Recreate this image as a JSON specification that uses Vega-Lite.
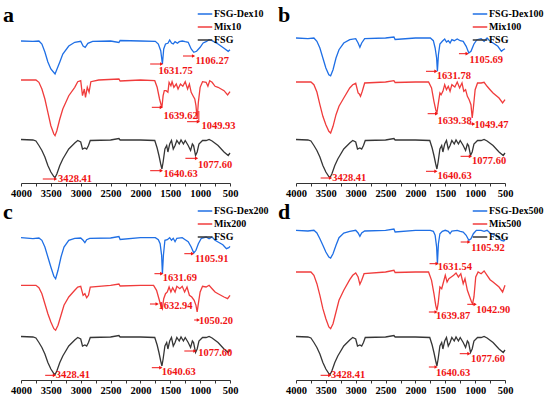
{
"$schema":"https://vega.github.io/schema/vega-lite/v6.json",
"padding":{"left":3,"top":4,"right":2,"bottom":2},
"background":"#ffffff",
"config":{"font":"Liberation Serif","view":{"stroke":null},
 "axisX":{"domainColor":"#333333","tickColor":"#333333","tickSize":3,"labelFont":"Liberation Serif","labelFontWeight":"bold","labelFontSize":10.5,"labelColor":"#000000","labelPadding":2,"grid":false,"labelFlush":false,"labelOverlap":false},
 "legend":{"orient":"none","legendX":176,"legendY":-17,"symbolType":"stroke","symbolSize":210,"symbolStrokeWidth":1.5,"labelFont":"Liberation Serif","labelFontWeight":"bold","labelFontSize":10,"labelColor":"#000000","rowPadding":-2,"padding":0,"labelOffset":1,"title":null},
 "title":{"anchor":"start","frame":"group","fontSize":22,"font":"Liberation Serif","fontWeight":"bold","color":"#000000","dx":-18,"dy":25,"offset":0}
},
"datasets":{
"fsg":[{"s":"FSG","w":4000,"h":43.5},{"s":"FSG","w":3800,"h":43},{"s":"FSG","w":3750,"h":42},{"s":"FSG","w":3700,"h":37.5},{"s":"FSG","w":3650,"h":32.5},{"s":"FSG","w":3600,"h":26},{"s":"FSG","w":3550,"h":17.5},{"s":"FSG","w":3500,"h":11},{"s":"FSG","w":3450,"h":6.5},{"s":"FSG","w":3430,"h":5.5},{"s":"FSG","w":3400,"h":9},{"s":"FSG","w":3350,"h":17.5},{"s":"FSG","w":3300,"h":24},{"s":"FSG","w":3200,"h":34},{"s":"FSG","w":3100,"h":40},{"s":"FSG","w":3050,"h":42.5},{"s":"FSG","w":3000,"h":41},{"s":"FSG","w":2970,"h":34},{"s":"FSG","w":2930,"h":35},{"s":"FSG","w":2900,"h":34},{"s":"FSG","w":2870,"h":37.5},{"s":"FSG","w":2840,"h":42.5},{"s":"FSG","w":2500,"h":43},{"s":"FSG","w":2360,"h":44.5},{"s":"FSG","w":2340,"h":43},{"s":"FSG","w":2000,"h":43},{"s":"FSG","w":1760,"h":42.5},{"s":"FSG","w":1720,"h":35},{"s":"FSG","w":1690,"h":27.5},{"s":"FSG","w":1660,"h":19},{"s":"FSG","w":1640,"h":14},{"s":"FSG","w":1620,"h":21},{"s":"FSG","w":1590,"h":34},{"s":"FSG","w":1560,"h":37.5},{"s":"FSG","w":1540,"h":31},{"s":"FSG","w":1510,"h":39},{"s":"FSG","w":1480,"h":42.5},{"s":"FSG","w":1450,"h":34},{"s":"FSG","w":1420,"h":37.5},{"s":"FSG","w":1390,"h":42.5},{"s":"FSG","w":1350,"h":39},{"s":"FSG","w":1320,"h":43},{"s":"FSG","w":1280,"h":39},{"s":"FSG","w":1250,"h":42.5},{"s":"FSG","w":1200,"h":37.5},{"s":"FSG","w":1160,"h":32.5},{"s":"FSG","w":1130,"h":39},{"s":"FSG","w":1110,"h":37.5},{"s":"FSG","w":1077,"h":27.5},{"s":"FSG","w":1050,"h":31},{"s":"FSG","w":1020,"h":39},{"s":"FSG","w":960,"h":42.5},{"s":"FSG","w":900,"h":42.5},{"s":"FSG","w":850,"h":43.5},{"s":"FSG","w":800,"h":42},{"s":"FSG","w":700,"h":37.5},{"s":"FSG","w":600,"h":31},{"s":"FSG","w":530,"h":27.5},{"s":"FSG","w":500,"h":30}],
"pa":[{"s":"FSG-Dex10","w":4000,"h":142},{"s":"FSG-Dex10","w":3800,"h":141.7},{"s":"FSG-Dex10","w":3700,"h":142},{"s":"FSG-Dex10","w":3650,"h":139},{"s":"FSG-Dex10","w":3600,"h":131},{"s":"FSG-Dex10","w":3550,"h":121},{"s":"FSG-Dex10","w":3500,"h":114},{"s":"FSG-Dex10","w":3430,"h":109},{"s":"FSG-Dex10","w":3350,"h":121},{"s":"FSG-Dex10","w":3300,"h":129},{"s":"FSG-Dex10","w":3200,"h":137},{"s":"FSG-Dex10","w":3100,"h":140.7},{"s":"FSG-Dex10","w":3000,"h":141.7},{"s":"FSG-Dex10","w":2960,"h":137},{"s":"FSG-Dex10","w":2925,"h":135.7},{"s":"FSG-Dex10","w":2880,"h":139.7},{"s":"FSG-Dex10","w":2800,"h":141.7},{"s":"FSG-Dex10","w":2500,"h":142},{"s":"FSG-Dex10","w":2360,"h":140.5},{"s":"FSG-Dex10","w":2340,"h":142.5},{"s":"FSG-Dex10","w":2000,"h":142},{"s":"FSG-Dex10","w":1750,"h":141.7},{"s":"FSG-Dex10","w":1700,"h":139},{"s":"FSG-Dex10","w":1660,"h":132.3},{"s":"FSG-Dex10","w":1632,"h":119},{"s":"FSG-Dex10","w":1610,"h":134},{"s":"FSG-Dex10","w":1580,"h":139},{"s":"FSG-Dex10","w":1540,"h":139.7},{"s":"FSG-Dex10","w":1510,"h":143},{"s":"FSG-Dex10","w":1480,"h":140},{"s":"FSG-Dex10","w":1450,"h":139},{"s":"FSG-Dex10","w":1420,"h":141.3},{"s":"FSG-Dex10","w":1380,"h":139.7},{"s":"FSG-Dex10","w":1350,"h":141.3},{"s":"FSG-Dex10","w":1300,"h":142},{"s":"FSG-Dex10","w":1250,"h":141.3},{"s":"FSG-Dex10","w":1200,"h":140.7},{"s":"FSG-Dex10","w":1150,"h":134},{"s":"FSG-Dex10","w":1106,"h":130.7},{"s":"FSG-Dex10","w":1060,"h":131.7},{"s":"FSG-Dex10","w":1000,"h":135.7},{"s":"FSG-Dex10","w":950,"h":140},{"s":"FSG-Dex10","w":900,"h":141.3},{"s":"FSG-Dex10","w":850,"h":143.3},{"s":"FSG-Dex10","w":800,"h":142.3},{"s":"FSG-Dex10","w":700,"h":139},{"s":"FSG-Dex10","w":600,"h":134.7},{"s":"FSG-Dex10","w":530,"h":131.7},{"s":"FSG-Dex10","w":500,"h":133.3},
{"s":"Mix10","w":4000,"h":103},{"s":"Mix10","w":3750,"h":103},{"s":"Mix10","w":3700,"h":100.7},{"s":"Mix10","w":3650,"h":94},{"s":"Mix10","w":3600,"h":84},{"s":"Mix10","w":3550,"h":70.7},{"s":"Mix10","w":3500,"h":57.3},{"s":"Mix10","w":3450,"h":49},{"s":"Mix10","w":3430,"h":47.3},{"s":"Mix10","w":3400,"h":52.3},{"s":"Mix10","w":3350,"h":64},{"s":"Mix10","w":3300,"h":74},{"s":"Mix10","w":3200,"h":87.3},{"s":"Mix10","w":3100,"h":95.7},{"s":"Mix10","w":3050,"h":101.3},{"s":"Mix10","w":3000,"h":102.3},{"s":"Mix10","w":2970,"h":87.3},{"s":"Mix10","w":2940,"h":94},{"s":"Mix10","w":2920,"h":85.7},{"s":"Mix10","w":2890,"h":95.7},{"s":"Mix10","w":2860,"h":90.7},{"s":"Mix10","w":2830,"h":101.3},{"s":"Mix10","w":2700,"h":103},{"s":"Mix10","w":2360,"h":104},{"s":"Mix10","w":2340,"h":102},{"s":"Mix10","w":2000,"h":103},{"s":"Mix10","w":1760,"h":102.3},{"s":"Mix10","w":1720,"h":95.7},{"s":"Mix10","w":1680,"h":84},{"s":"Mix10","w":1650,"h":77.3},{"s":"Mix10","w":1640,"h":75.7},{"s":"Mix10","w":1620,"h":87.3},{"s":"Mix10","w":1600,"h":92.3},{"s":"Mix10","w":1570,"h":92.3},{"s":"Mix10","w":1540,"h":90.7},{"s":"Mix10","w":1520,"h":100.7},{"s":"Mix10","w":1490,"h":97.3},{"s":"Mix10","w":1470,"h":101.3},{"s":"Mix10","w":1440,"h":95.7},{"s":"Mix10","w":1400,"h":99},{"s":"Mix10","w":1370,"h":94},{"s":"Mix10","w":1330,"h":99},{"s":"Mix10","w":1290,"h":96.7},{"s":"Mix10","w":1250,"h":101.3},{"s":"Mix10","w":1210,"h":94},{"s":"Mix10","w":1180,"h":99},{"s":"Mix10","w":1150,"h":90.7},{"s":"Mix10","w":1120,"h":87.3},{"s":"Mix10","w":1090,"h":84},{"s":"Mix10","w":1070,"h":77.3},{"s":"Mix10","w":1050,"h":64},{"s":"Mix10","w":1030,"h":80.7},{"s":"Mix10","w":1000,"h":95.7},{"s":"Mix10","w":960,"h":101.3},{"s":"Mix10","w":900,"h":100.7},{"s":"Mix10","w":870,"h":96.7},{"s":"Mix10","w":840,"h":102.3},{"s":"Mix10","w":800,"h":100.7},{"s":"Mix10","w":750,"h":96.7},{"s":"Mix10","w":700,"h":95.7},{"s":"Mix10","w":600,"h":92.3},{"s":"Mix10","w":540,"h":88},{"s":"Mix10","w":500,"h":91.3}],
"pb":[{"s":"FSG-Dex100","w":4000,"h":145},{"s":"FSG-Dex100","w":3800,"h":144.3},{"s":"FSG-Dex100","w":3700,"h":145},{"s":"FSG-Dex100","w":3650,"h":141.7},{"s":"FSG-Dex100","w":3600,"h":135},{"s":"FSG-Dex100","w":3550,"h":125},{"s":"FSG-Dex100","w":3500,"h":115},{"s":"FSG-Dex100","w":3450,"h":108.3},{"s":"FSG-Dex100","w":3420,"h":107.3},{"s":"FSG-Dex100","w":3380,"h":113.3},{"s":"FSG-Dex100","w":3330,"h":125},{"s":"FSG-Dex100","w":3280,"h":133.3},{"s":"FSG-Dex100","w":3200,"h":140},{"s":"FSG-Dex100","w":3100,"h":143.3},{"s":"FSG-Dex100","w":3000,"h":144.3},{"s":"FSG-Dex100","w":2960,"h":140},{"s":"FSG-Dex100","w":2930,"h":135.7},{"s":"FSG-Dex100","w":2900,"h":140},{"s":"FSG-Dex100","w":2850,"h":144.3},{"s":"FSG-Dex100","w":2500,"h":145},{"s":"FSG-Dex100","w":2360,"h":146},{"s":"FSG-Dex100","w":2340,"h":143.5},{"s":"FSG-Dex100","w":2000,"h":145},{"s":"FSG-Dex100","w":1750,"h":145},{"s":"FSG-Dex100","w":1700,"h":142.3},{"s":"FSG-Dex100","w":1670,"h":135},{"s":"FSG-Dex100","w":1645,"h":125},{"s":"FSG-Dex100","w":1632,"h":111.7},{"s":"FSG-Dex100","w":1615,"h":128.3},{"s":"FSG-Dex100","w":1590,"h":139},{"s":"FSG-Dex100","w":1550,"h":141.7},{"s":"FSG-Dex100","w":1510,"h":144},{"s":"FSG-Dex100","w":1480,"h":141},{"s":"FSG-Dex100","w":1450,"h":142.3},{"s":"FSG-Dex100","w":1420,"h":140},{"s":"FSG-Dex100","w":1390,"h":143.3},{"s":"FSG-Dex100","w":1350,"h":142.3},{"s":"FSG-Dex100","w":1300,"h":144},{"s":"FSG-Dex100","w":1250,"h":142.3},{"s":"FSG-Dex100","w":1200,"h":141.7},{"s":"FSG-Dex100","w":1150,"h":136.7},{"s":"FSG-Dex100","w":1106,"h":130},{"s":"FSG-Dex100","w":1070,"h":131.7},{"s":"FSG-Dex100","w":1020,"h":139},{"s":"FSG-Dex100","w":970,"h":143.3},{"s":"FSG-Dex100","w":900,"h":144.3},{"s":"FSG-Dex100","w":850,"h":141.7},{"s":"FSG-Dex100","w":800,"h":145},{"s":"FSG-Dex100","w":750,"h":141.7},{"s":"FSG-Dex100","w":700,"h":140},{"s":"FSG-Dex100","w":620,"h":136.7},{"s":"FSG-Dex100","w":560,"h":131.7},{"s":"FSG-Dex100","w":530,"h":133.3},{"s":"FSG-Dex100","w":500,"h":134.3},
{"s":"Mix100","w":4000,"h":101},{"s":"Mix100","w":3750,"h":101},{"s":"Mix100","w":3700,"h":98.3},{"s":"Mix100","w":3650,"h":91},{"s":"Mix100","w":3600,"h":78.3},{"s":"Mix100","w":3550,"h":66.7},{"s":"Mix100","w":3500,"h":58.3},{"s":"Mix100","w":3450,"h":51.7},{"s":"Mix100","w":3420,"h":50},{"s":"Mix100","w":3380,"h":56.7},{"s":"Mix100","w":3330,"h":68.3},{"s":"Mix100","w":3280,"h":76.7},{"s":"Mix100","w":3200,"h":85},{"s":"Mix100","w":3100,"h":95},{"s":"Mix100","w":3050,"h":98.3},{"s":"Mix100","w":3000,"h":99.7},{"s":"Mix100","w":2960,"h":90},{"s":"Mix100","w":2940,"h":89},{"s":"Mix100","w":2920,"h":86.7},{"s":"Mix100","w":2890,"h":91.7},{"s":"Mix100","w":2850,"h":100},{"s":"Mix100","w":2500,"h":101},{"s":"Mix100","w":2360,"h":102.3},{"s":"Mix100","w":2340,"h":100.5},{"s":"Mix100","w":2000,"h":101},{"s":"Mix100","w":1780,"h":101},{"s":"Mix100","w":1730,"h":95},{"s":"Mix100","w":1690,"h":81.7},{"s":"Mix100","w":1660,"h":73.3},{"s":"Mix100","w":1640,"h":70},{"s":"Mix100","w":1620,"h":78.3},{"s":"Mix100","w":1590,"h":90},{"s":"Mix100","w":1570,"h":88.3},{"s":"Mix100","w":1540,"h":91.7},{"s":"Mix100","w":1510,"h":98.3},{"s":"Mix100","w":1480,"h":93.3},{"s":"Mix100","w":1450,"h":96.7},{"s":"Mix100","w":1420,"h":91.7},{"s":"Mix100","w":1390,"h":98.3},{"s":"Mix100","w":1340,"h":96},{"s":"Mix100","w":1300,"h":101},{"s":"Mix100","w":1260,"h":95},{"s":"Mix100","w":1220,"h":100},{"s":"Mix100","w":1190,"h":91.7},{"s":"Mix100","w":1160,"h":93.3},{"s":"Mix100","w":1130,"h":86.7},{"s":"Mix100","w":1100,"h":83.3},{"s":"Mix100","w":1070,"h":78.3},{"s":"Mix100","w":1049,"h":65},{"s":"Mix100","w":1030,"h":75},{"s":"Mix100","w":1000,"h":93.3},{"s":"Mix100","w":960,"h":100},{"s":"Mix100","w":900,"h":100},{"s":"Mix100","w":850,"h":100.7},{"s":"Mix100","w":800,"h":96.7},{"s":"Mix100","w":750,"h":93.3},{"s":"Mix100","w":700,"h":90},{"s":"Mix100","w":600,"h":85},{"s":"Mix100","w":540,"h":80},{"s":"Mix100","w":500,"h":83.3}],
"pc":[{"s":"FSG-Dex200","w":4000,"h":142.3},{"s":"FSG-Dex200","w":3800,"h":141.3},{"s":"FSG-Dex200","w":3700,"h":142},{"s":"FSG-Dex200","w":3650,"h":139.7},{"s":"FSG-Dex200","w":3600,"h":133},{"s":"FSG-Dex200","w":3550,"h":123},{"s":"FSG-Dex200","w":3500,"h":113},{"s":"FSG-Dex200","w":3450,"h":103.7},{"s":"FSG-Dex200","w":3420,"h":101.3},{"s":"FSG-Dex200","w":3380,"h":109.7},{"s":"FSG-Dex200","w":3330,"h":123},{"s":"FSG-Dex200","w":3280,"h":133},{"s":"FSG-Dex200","w":3200,"h":139.7},{"s":"FSG-Dex200","w":3100,"h":141.7},{"s":"FSG-Dex200","w":3000,"h":142},{"s":"FSG-Dex200","w":2960,"h":139.7},{"s":"FSG-Dex200","w":2930,"h":137.3},{"s":"FSG-Dex200","w":2900,"h":140.3},{"s":"FSG-Dex200","w":2850,"h":141.7},{"s":"FSG-Dex200","w":2500,"h":142},{"s":"FSG-Dex200","w":2360,"h":143.5},{"s":"FSG-Dex200","w":2340,"h":140.5},{"s":"FSG-Dex200","w":2000,"h":142.3},{"s":"FSG-Dex200","w":1750,"h":142.3},{"s":"FSG-Dex200","w":1700,"h":140.3},{"s":"FSG-Dex200","w":1670,"h":136.3},{"s":"FSG-Dex200","w":1645,"h":124.7},{"s":"FSG-Dex200","w":1632,"h":106.3},{"s":"FSG-Dex200","w":1615,"h":124.7},{"s":"FSG-Dex200","w":1590,"h":139.7},{"s":"FSG-Dex200","w":1550,"h":140.3},{"s":"FSG-Dex200","w":1510,"h":142.3},{"s":"FSG-Dex200","w":1480,"h":139.7},{"s":"FSG-Dex200","w":1450,"h":141.7},{"s":"FSG-Dex200","w":1420,"h":138.3},{"s":"FSG-Dex200","w":1390,"h":141.7},{"s":"FSG-Dex200","w":1300,"h":142.3},{"s":"FSG-Dex200","w":1250,"h":140.3},{"s":"FSG-Dex200","w":1200,"h":138.3},{"s":"FSG-Dex200","w":1150,"h":133},{"s":"FSG-Dex200","w":1106,"h":127},{"s":"FSG-Dex200","w":1070,"h":129.7},{"s":"FSG-Dex200","w":1030,"h":136.3},{"s":"FSG-Dex200","w":980,"h":141.7},{"s":"FSG-Dex200","w":900,"h":143},{"s":"FSG-Dex200","w":850,"h":141.3},{"s":"FSG-Dex200","w":800,"h":143},{"s":"FSG-Dex200","w":750,"h":139.7},{"s":"FSG-Dex200","w":700,"h":138},{"s":"FSG-Dex200","w":620,"h":135.3},{"s":"FSG-Dex200","w":560,"h":131.3},{"s":"FSG-Dex200","w":520,"h":132.3},{"s":"FSG-Dex200","w":500,"h":133.7},
{"s":"Mix200","w":4000,"h":94.7},{"s":"Mix200","w":3750,"h":94.7},{"s":"Mix200","w":3700,"h":92.3},{"s":"Mix200","w":3650,"h":86.3},{"s":"Mix200","w":3600,"h":76.3},{"s":"Mix200","w":3550,"h":66.3},{"s":"Mix200","w":3500,"h":58},{"s":"Mix200","w":3450,"h":51.3},{"s":"Mix200","w":3420,"h":49.7},{"s":"Mix200","w":3380,"h":54.7},{"s":"Mix200","w":3330,"h":64.7},{"s":"Mix200","w":3280,"h":74.7},{"s":"Mix200","w":3200,"h":83},{"s":"Mix200","w":3100,"h":89.7},{"s":"Mix200","w":3050,"h":93},{"s":"Mix200","w":3000,"h":93.7},{"s":"Mix200","w":2960,"h":84.7},{"s":"Mix200","w":2930,"h":86.3},{"s":"Mix200","w":2900,"h":82.3},{"s":"Mix200","w":2870,"h":84.7},{"s":"Mix200","w":2840,"h":93},{"s":"Mix200","w":2500,"h":94.7},{"s":"Mix200","w":2360,"h":96},{"s":"Mix200","w":2340,"h":94},{"s":"Mix200","w":2000,"h":94.7},{"s":"Mix200","w":1780,"h":94.7},{"s":"Mix200","w":1730,"h":89.7},{"s":"Mix200","w":1690,"h":81.3},{"s":"Mix200","w":1660,"h":74.7},{"s":"Mix200","w":1633,"h":71.3},{"s":"Mix200","w":1610,"h":81.3},{"s":"Mix200","w":1580,"h":86.3},{"s":"Mix200","w":1550,"h":88},{"s":"Mix200","w":1520,"h":93},{"s":"Mix200","w":1490,"h":88},{"s":"Mix200","w":1460,"h":92.3},{"s":"Mix200","w":1420,"h":88},{"s":"Mix200","w":1390,"h":93.7},{"s":"Mix200","w":1340,"h":91.3},{"s":"Mix200","w":1300,"h":93.7},{"s":"Mix200","w":1260,"h":88},{"s":"Mix200","w":1220,"h":93},{"s":"Mix200","w":1180,"h":84.7},{"s":"Mix200","w":1140,"h":83},{"s":"Mix200","w":1100,"h":79.7},{"s":"Mix200","w":1070,"h":74.7},{"s":"Mix200","w":1050,"h":68},{"s":"Mix200","w":1030,"h":76.3},{"s":"Mix200","w":1000,"h":88},{"s":"Mix200","w":960,"h":93.7},{"s":"Mix200","w":900,"h":93},{"s":"Mix200","w":850,"h":94.7},{"s":"Mix200","w":800,"h":91.3},{"s":"Mix200","w":750,"h":88},{"s":"Mix200","w":700,"h":86.3},{"s":"Mix200","w":600,"h":83},{"s":"Mix200","w":540,"h":81.3},{"s":"Mix200","w":500,"h":84.7}],
"pd":[{"s":"FSG-Dex500","w":4000,"h":149.7},{"s":"FSG-Dex500","w":3800,"h":149},{"s":"FSG-Dex500","w":3700,"h":149.7},{"s":"FSG-Dex500","w":3650,"h":147},{"s":"FSG-Dex500","w":3600,"h":141.3},{"s":"FSG-Dex500","w":3550,"h":134.7},{"s":"FSG-Dex500","w":3500,"h":128},{"s":"FSG-Dex500","w":3450,"h":123},{"s":"FSG-Dex500","w":3420,"h":122},{"s":"FSG-Dex500","w":3380,"h":126.3},{"s":"FSG-Dex500","w":3330,"h":134.7},{"s":"FSG-Dex500","w":3280,"h":142.3},{"s":"FSG-Dex500","w":3200,"h":147},{"s":"FSG-Dex500","w":3100,"h":148.7},{"s":"FSG-Dex500","w":3000,"h":149.7},{"s":"FSG-Dex500","w":2960,"h":147},{"s":"FSG-Dex500","w":2930,"h":143.7},{"s":"FSG-Dex500","w":2900,"h":147},{"s":"FSG-Dex500","w":2850,"h":149},{"s":"FSG-Dex500","w":2500,"h":149.7},{"s":"FSG-Dex500","w":2360,"h":151},{"s":"FSG-Dex500","w":2340,"h":148},{"s":"FSG-Dex500","w":2000,"h":149.7},{"s":"FSG-Dex500","w":1750,"h":149.7},{"s":"FSG-Dex500","w":1700,"h":148.7},{"s":"FSG-Dex500","w":1670,"h":144.7},{"s":"FSG-Dex500","w":1645,"h":133},{"s":"FSG-Dex500","w":1632,"h":116.3},{"s":"FSG-Dex500","w":1615,"h":136.3},{"s":"FSG-Dex500","w":1590,"h":146.3},{"s":"FSG-Dex500","w":1550,"h":148.7},{"s":"FSG-Dex500","w":1500,"h":149.7},{"s":"FSG-Dex500","w":1450,"h":148.7},{"s":"FSG-Dex500","w":1420,"h":146.3},{"s":"FSG-Dex500","w":1390,"h":149},{"s":"FSG-Dex500","w":1300,"h":149.7},{"s":"FSG-Dex500","w":1250,"h":148.7},{"s":"FSG-Dex500","w":1200,"h":148},{"s":"FSG-Dex500","w":1150,"h":144.7},{"s":"FSG-Dex500","w":1106,"h":139.7},{"s":"FSG-Dex500","w":1070,"h":141.3},{"s":"FSG-Dex500","w":1030,"h":146.3},{"s":"FSG-Dex500","w":980,"h":149.7},{"s":"FSG-Dex500","w":900,"h":149.7},{"s":"FSG-Dex500","w":850,"h":148.7},{"s":"FSG-Dex500","w":800,"h":149.7},{"s":"FSG-Dex500","w":750,"h":147},{"s":"FSG-Dex500","w":700,"h":145.7},{"s":"FSG-Dex500","w":620,"h":143},{"s":"FSG-Dex500","w":560,"h":139.7},{"s":"FSG-Dex500","w":520,"h":139},{"s":"FSG-Dex500","w":500,"h":140.3},
{"s":"Mix500","w":4000,"h":108},{"s":"Mix500","w":3750,"h":108},{"s":"Mix500","w":3700,"h":104.7},{"s":"Mix500","w":3650,"h":96.3},{"s":"Mix500","w":3600,"h":84.7},{"s":"Mix500","w":3550,"h":71.3},{"s":"Mix500","w":3500,"h":61.3},{"s":"Mix500","w":3450,"h":53},{"s":"Mix500","w":3420,"h":51.3},{"s":"Mix500","w":3380,"h":56.3},{"s":"Mix500","w":3330,"h":68},{"s":"Mix500","w":3280,"h":79.7},{"s":"Mix500","w":3200,"h":89.7},{"s":"Mix500","w":3100,"h":100.3},{"s":"Mix500","w":3050,"h":104.7},{"s":"Mix500","w":3000,"h":107},{"s":"Mix500","w":2960,"h":103},{"s":"Mix500","w":2930,"h":95.7},{"s":"Mix500","w":2900,"h":99.7},{"s":"Mix500","w":2860,"h":106.3},{"s":"Mix500","w":2500,"h":108},{"s":"Mix500","w":2360,"h":109.7},{"s":"Mix500","w":2340,"h":107.5},{"s":"Mix500","w":2000,"h":108},{"s":"Mix500","w":1780,"h":108},{"s":"Mix500","w":1730,"h":99.7},{"s":"Mix500","w":1690,"h":86.3},{"s":"Mix500","w":1660,"h":74.7},{"s":"Mix500","w":1640,"h":69.7},{"s":"Mix500","w":1620,"h":76.3},{"s":"Mix500","w":1590,"h":93},{"s":"Mix500","w":1560,"h":91.3},{"s":"Mix500","w":1530,"h":98},{"s":"Mix500","w":1500,"h":104.7},{"s":"Mix500","w":1470,"h":98},{"s":"Mix500","w":1440,"h":101.3},{"s":"Mix500","w":1400,"h":103},{"s":"Mix500","w":1360,"h":104.7},{"s":"Mix500","w":1320,"h":107},{"s":"Mix500","w":1280,"h":103},{"s":"Mix500","w":1240,"h":106.3},{"s":"Mix500","w":1200,"h":96.3},{"s":"Mix500","w":1170,"h":101.3},{"s":"Mix500","w":1130,"h":89.7},{"s":"Mix500","w":1090,"h":83},{"s":"Mix500","w":1060,"h":78},{"s":"Mix500","w":1043,"h":76.3},{"s":"Mix500","w":1020,"h":83},{"s":"Mix500","w":990,"h":103},{"s":"Mix500","w":950,"h":108},{"s":"Mix500","w":900,"h":106.3},{"s":"Mix500","w":850,"h":109},{"s":"Mix500","w":800,"h":104.7},{"s":"Mix500","w":750,"h":100.3},{"s":"Mix500","w":700,"h":98},{"s":"Mix500","w":600,"h":93},{"s":"Mix500","w":540,"h":88},{"s":"Mix500","w":500,"h":94.7}],
"aa":[{"t":"1106.27","tx":1079,"ty":122,"x1":1287,"x2":1110,"ay":127},{"t":"1631.75","tx":1697,"ty":112,"x1":1837,"x2":1645,"ay":119},{"t":"1639.62","tx":1612,"ty":67,"x1":1809,"x2":1650,"ay":75.7},{"t":"1049.93","tx":978,"ty":57,"x1":1219,"x2":1030,"ay":61.3},{"t":"1077.60","tx":1034,"ty":18,"x1":1247,"x2":1060,"ay":24.7},{"t":"1640.63","tx":1612,"ty":9,"x1":1837,"x2":1650,"ay":12.3},{"t":"3428.41","tx":3382,"ty":4,"x1":3635,"x2":3420,"ay":4}],
"ab":[{"t":"1105.69","tx":1095,"ty":123.3,"x1":1271,"x2":1134,"ay":129.3},{"t":"1631.78","tx":1641,"ty":106.7,"x1":1823,"x2":1657,"ay":111.7},{"t":"1639.38","tx":1630,"ty":61.7,"x1":1795,"x2":1645,"ay":69.3},{"t":"1049.47","tx":1012,"ty":58.3,"x1":1110,"x2":1025,"ay":59},{"t":"1077.60","tx":1051,"ty":21.7,"x1":1244,"x2":1079,"ay":26.7},{"t":"1640.63","tx":1630,"ty":6.7,"x1":1823,"x2":1657,"ay":11.7},{"t":"3428.41","tx":3394,"ty":5,"x1":3587,"x2":3421,"ay":5}],
"ac":[{"t":"1105.91","tx":1088,"ty":121.3,"x1":1265,"x2":1127,"ay":126.3},{"t":"1631.69","tx":1626,"ty":102,"x1":1765,"x2":1643,"ay":106.3},{"t":"1632.94","tx":1698,"ty":73.7,"x1":1840,"x2":1720,"ay":76},{"t":"1050.20","tx":1021,"ty":59,"x1":1100,"x2":1030,"ay":60},{"t":"1077.60","tx":1032,"ty":27,"x1":1265,"x2":1088,"ay":29},{"t":"1640.63","tx":1643,"ty":8,"x1":1809,"x2":1659,"ay":12.3},{"t":"3428.41","tx":3418,"ty":4.7,"x1":3595,"x2":3440,"ay":4.7}],
"ad":[{"t":"1105.92","tx":1066,"ty":132.3,"x1":1242,"x2":1104,"ay":138},{"t":"1631.54","tx":1626,"ty":113,"x1":1764,"x2":1637,"ay":116.3},{"t":"1639.87","tx":1654,"ty":63.7,"x1":1775,"x2":1654,"ay":68},{"t":"1042.90","tx":983,"ty":70.3,"x1":1132,"x2":1000,"ay":75.7},{"t":"1077.60","tx":1071,"ty":20.7,"x1":1258,"x2":1104,"ay":26.3},{"t":"1640.63","tx":1654,"ty":7.3,"x1":1775,"x2":1654,"ay":13},{"t":"3428.41","tx":3412,"ty":4.7,"x1":3588,"x2":3434,"ay":4.7}]
},
"columns":2,
"bounds":"flush",
"spacing":{"column":66,"row":37},
"resolve":{"scale":{"color":"independent","x":"independent","y":"independent"},"legend":{"color":"independent"}},
"concat":[
{"width":209,"height":160,"title":{"text":"a"},
 "layer":[
  {"data":{"name":"pa"},"mark":{"type":"line","strokeWidth":1.3},"encoding":{"x":{"field":"w","type":"quantitative","title":null,"scale":{"domain":[500,4000],"reverse":true,"nice":false,"zero":false},"axis":{"values":[4000,3750,3500,3250,3000,2750,2500,2250,2000,1750,1500,1250,1000,750,500],"labelExpr":"datum.value % 500 === 0 ? '' + datum.value : ''","labelOverlap":false}},"y":{"field":"h","type":"quantitative","scale":{"domain":[0,160],"nice":false,"zero":false},"axis":null},"color":{"field":"s","type":"nominal","scale":{"domain":["FSG-Dex10","Mix10","FSG"],"range":["#1f6fe5","#f03c3c","#363636"]}}}},
  {"data":{"name":"fsg"},"mark":{"type":"line","strokeWidth":1.3},"encoding":{"x":{"field":"w","type":"quantitative","title":null,"axis":{"values":[4000,3750,3500,3250,3000,2750,2500,2250,2000,1750,1500,1250,1000,750,500],"labelExpr":"datum.value % 500 === 0 ? '' + datum.value : ''","labelOverlap":false}},"y":{"field":"h","type":"quantitative","axis":null},"color":{"field":"s","type":"nominal"}}},
  {"data":{"name":"aa"},"mark":{"type":"rule","color":"#f01414","strokeWidth":1},"encoding":{"x":{"field":"x1","type":"quantitative","title":null,"axis":{"values":[4000,3750,3500,3250,3000,2750,2500,2250,2000,1750,1500,1250,1000,750,500],"labelExpr":"datum.value % 500 === 0 ? '' + datum.value : ''","labelOverlap":false}},"x2":{"field":"x2"},"y":{"field":"ay","type":"quantitative","axis":null}}},
  {"data":{"values":[{"vx":1022,"vy1":61.3,"vy2":72}]},"mark":{"type":"rule","color":"#f01414","strokeWidth":1},"encoding":{"x":{"field":"vx","type":"quantitative","title":null,"axis":{"values":[4000,3750,3500,3250,3000,2750,2500,2250,2000,1750,1500,1250,1000,750,500],"labelExpr":"datum.value % 500 === 0 ? '' + datum.value : ''","labelOverlap":false}},"y":{"field":"vy1","type":"quantitative","axis":null},"y2":{"field":"vy2"}}},
  {"data":{"name":"aa"},"mark":{"type":"point","shape":"triangle-right","filled":true,"color":"#f01414","size":14,"opacity":1},"encoding":{"x":{"field":"x2","type":"quantitative","title":null,"axis":{"values":[4000,3750,3500,3250,3000,2750,2500,2250,2000,1750,1500,1250,1000,750,500],"labelExpr":"datum.value % 500 === 0 ? '' + datum.value : ''","labelOverlap":false}},"y":{"field":"ay","type":"quantitative","axis":null}}},
  {"data":{"name":"aa"},"mark":{"type":"text","align":"left","baseline":"middle","font":"Liberation Serif","fontWeight":"bold","fontSize":10.5,"color":"#f01414"},"encoding":{"x":{"field":"tx","type":"quantitative","title":null,"axis":{"values":[4000,3750,3500,3250,3000,2750,2500,2250,2000,1750,1500,1250,1000,750,500],"labelExpr":"datum.value % 500 === 0 ? '' + datum.value : ''","labelOverlap":false}},"y":{"field":"ty","type":"quantitative","axis":null},"text":{"field":"t"}}}
 ]},
{"width":209,"height":160,"title":{"text":"b"},
 "layer":[
  {"data":{"name":"pb"},"mark":{"type":"line","strokeWidth":1.3},"encoding":{"x":{"field":"w","type":"quantitative","title":null,"scale":{"domain":[500,4000],"reverse":true,"nice":false,"zero":false},"axis":{"values":[4000,3750,3500,3250,3000,2750,2500,2250,2000,1750,1500,1250,1000,750,500],"labelExpr":"datum.value % 500 === 0 ? '' + datum.value : ''","labelOverlap":false}},"y":{"field":"h","type":"quantitative","scale":{"domain":[0,160],"nice":false,"zero":false},"axis":null},"color":{"field":"s","type":"nominal","scale":{"domain":["FSG-Dex100","Mix100","FSG"],"range":["#1f6fe5","#f03c3c","#363636"]}}}},
  {"data":{"name":"fsg"},"mark":{"type":"line","strokeWidth":1.3},"encoding":{"x":{"field":"w","type":"quantitative","title":null,"axis":{"values":[4000,3750,3500,3250,3000,2750,2500,2250,2000,1750,1500,1250,1000,750,500],"labelExpr":"datum.value % 500 === 0 ? '' + datum.value : ''","labelOverlap":false}},"y":{"field":"h","type":"quantitative","axis":null},"color":{"field":"s","type":"nominal"}}},
  {"data":{"name":"ab"},"mark":{"type":"rule","color":"#f01414","strokeWidth":1},"encoding":{"x":{"field":"x1","type":"quantitative","title":null,"axis":{"values":[4000,3750,3500,3250,3000,2750,2500,2250,2000,1750,1500,1250,1000,750,500],"labelExpr":"datum.value % 500 === 0 ? '' + datum.value : ''","labelOverlap":false}},"x2":{"field":"x2"},"y":{"field":"ay","type":"quantitative","axis":null}}},
  {"data":{"name":"ab"},"mark":{"type":"point","shape":"triangle-right","filled":true,"color":"#f01414","size":14,"opacity":1},"encoding":{"x":{"field":"x2","type":"quantitative","title":null,"axis":{"values":[4000,3750,3500,3250,3000,2750,2500,2250,2000,1750,1500,1250,1000,750,500],"labelExpr":"datum.value % 500 === 0 ? '' + datum.value : ''","labelOverlap":false}},"y":{"field":"ay","type":"quantitative","axis":null}}},
  {"data":{"name":"ab"},"mark":{"type":"text","align":"left","baseline":"middle","font":"Liberation Serif","fontWeight":"bold","fontSize":10.5,"color":"#f01414"},"encoding":{"x":{"field":"tx","type":"quantitative","title":null,"axis":{"values":[4000,3750,3500,3250,3000,2750,2500,2250,2000,1750,1500,1250,1000,750,500],"labelExpr":"datum.value % 500 === 0 ? '' + datum.value : ''","labelOverlap":false}},"y":{"field":"ty","type":"quantitative","axis":null},"text":{"field":"t"}}}
 ]},
{"width":209,"height":160,"title":{"text":"c"},
 "layer":[
  {"data":{"name":"pc"},"mark":{"type":"line","strokeWidth":1.3},"encoding":{"x":{"field":"w","type":"quantitative","title":null,"scale":{"domain":[500,4000],"reverse":true,"nice":false,"zero":false},"axis":{"values":[4000,3750,3500,3250,3000,2750,2500,2250,2000,1750,1500,1250,1000,750,500],"labelExpr":"datum.value % 500 === 0 ? '' + datum.value : ''","labelOverlap":false}},"y":{"field":"h","type":"quantitative","scale":{"domain":[0,160],"nice":false,"zero":false},"axis":null},"color":{"field":"s","type":"nominal","scale":{"domain":["FSG-Dex200","Mix200","FSG"],"range":["#1f6fe5","#f03c3c","#363636"]}}}},
  {"data":{"name":"fsg"},"mark":{"type":"line","strokeWidth":1.3},"encoding":{"x":{"field":"w","type":"quantitative","title":null,"axis":{"values":[4000,3750,3500,3250,3000,2750,2500,2250,2000,1750,1500,1250,1000,750,500],"labelExpr":"datum.value % 500 === 0 ? '' + datum.value : ''","labelOverlap":false}},"y":{"field":"h","type":"quantitative","axis":null},"color":{"field":"s","type":"nominal"}}},
  {"data":{"name":"ac"},"mark":{"type":"rule","color":"#f01414","strokeWidth":1},"encoding":{"x":{"field":"x1","type":"quantitative","title":null,"axis":{"values":[4000,3750,3500,3250,3000,2750,2500,2250,2000,1750,1500,1250,1000,750,500],"labelExpr":"datum.value % 500 === 0 ? '' + datum.value : ''","labelOverlap":false}},"x2":{"field":"x2"},"y":{"field":"ay","type":"quantitative","axis":null}}},
  {"data":{"name":"ac"},"mark":{"type":"point","shape":"triangle-right","filled":true,"color":"#f01414","size":14,"opacity":1},"encoding":{"x":{"field":"x2","type":"quantitative","title":null,"axis":{"values":[4000,3750,3500,3250,3000,2750,2500,2250,2000,1750,1500,1250,1000,750,500],"labelExpr":"datum.value % 500 === 0 ? '' + datum.value : ''","labelOverlap":false}},"y":{"field":"ay","type":"quantitative","axis":null}}},
  {"data":{"name":"ac"},"mark":{"type":"text","align":"left","baseline":"middle","font":"Liberation Serif","fontWeight":"bold","fontSize":10.5,"color":"#f01414"},"encoding":{"x":{"field":"tx","type":"quantitative","title":null,"axis":{"values":[4000,3750,3500,3250,3000,2750,2500,2250,2000,1750,1500,1250,1000,750,500],"labelExpr":"datum.value % 500 === 0 ? '' + datum.value : ''","labelOverlap":false}},"y":{"field":"ty","type":"quantitative","axis":null},"text":{"field":"t"}}}
 ]},
{"width":209,"height":160,"title":{"text":"d"},
 "layer":[
  {"data":{"name":"pd"},"mark":{"type":"line","strokeWidth":1.3},"encoding":{"x":{"field":"w","type":"quantitative","title":null,"scale":{"domain":[500,4000],"reverse":true,"nice":false,"zero":false},"axis":{"values":[4000,3750,3500,3250,3000,2750,2500,2250,2000,1750,1500,1250,1000,750,500],"labelExpr":"datum.value % 500 === 0 ? '' + datum.value : ''","labelOverlap":false}},"y":{"field":"h","type":"quantitative","scale":{"domain":[0,160],"nice":false,"zero":false},"axis":null},"color":{"field":"s","type":"nominal","scale":{"domain":["FSG-Dex500","Mix500","FSG"],"range":["#1f6fe5","#f03c3c","#363636"]}}}},
  {"data":{"name":"fsg"},"mark":{"type":"line","strokeWidth":1.3},"encoding":{"x":{"field":"w","type":"quantitative","title":null,"axis":{"values":[4000,3750,3500,3250,3000,2750,2500,2250,2000,1750,1500,1250,1000,750,500],"labelExpr":"datum.value % 500 === 0 ? '' + datum.value : ''","labelOverlap":false}},"y":{"field":"h","type":"quantitative","axis":null},"color":{"field":"s","type":"nominal"}}},
  {"data":{"name":"ad"},"mark":{"type":"rule","color":"#f01414","strokeWidth":1},"encoding":{"x":{"field":"x1","type":"quantitative","title":null,"axis":{"values":[4000,3750,3500,3250,3000,2750,2500,2250,2000,1750,1500,1250,1000,750,500],"labelExpr":"datum.value % 500 === 0 ? '' + datum.value : ''","labelOverlap":false}},"x2":{"field":"x2"},"y":{"field":"ay","type":"quantitative","axis":null}}},
  {"data":{"name":"ad"},"mark":{"type":"point","shape":"triangle-right","filled":true,"color":"#f01414","size":14,"opacity":1},"encoding":{"x":{"field":"x2","type":"quantitative","title":null,"axis":{"values":[4000,3750,3500,3250,3000,2750,2500,2250,2000,1750,1500,1250,1000,750,500],"labelExpr":"datum.value % 500 === 0 ? '' + datum.value : ''","labelOverlap":false}},"y":{"field":"ay","type":"quantitative","axis":null}}},
  {"data":{"name":"ad"},"mark":{"type":"text","align":"left","baseline":"middle","font":"Liberation Serif","fontWeight":"bold","fontSize":10.5,"color":"#f01414"},"encoding":{"x":{"field":"tx","type":"quantitative","title":null,"axis":{"values":[4000,3750,3500,3250,3000,2750,2500,2250,2000,1750,1500,1250,1000,750,500],"labelExpr":"datum.value % 500 === 0 ? '' + datum.value : ''","labelOverlap":false}},"y":{"field":"ty","type":"quantitative","axis":null},"text":{"field":"t"}}}
 ]}
]
}
